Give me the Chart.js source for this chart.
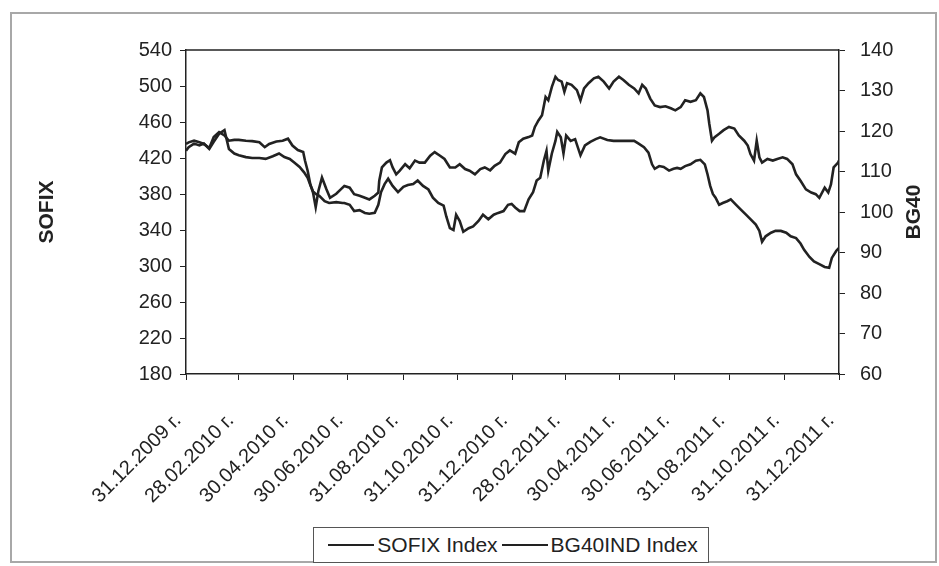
<!DOCTYPE html>
<html>
<head>
<meta charset="utf-8">
<title>SOFIX / BG40</title>
<script src="https://cdn.jsdelivr.net/npm/chart.js"></script>
<style>
    html, body { margin: 0; padding: 0; background: #fff; }
    #wrap { position: relative; width: 939px; height: 566px; }
    #frame { position: absolute; left: 10px; top: 12px; width: 927px; height: 551px; border: 2px solid #a8a8a8; box-sizing: border-box; pointer-events: none; }
    #legend { position: absolute; left: 313px; top: 527px; width: 396px; height: 36px; border: 1.5px solid #555; background: #fff; box-sizing: border-box;
              display: flex; align-items: center; justify-content: center; font-family: "Liberation Sans", Arial, sans-serif; font-size: 21px; color: #222; }
    #legend .sample { display: inline-block; width: 46px; border-top: 2px solid #222; margin: 0 3px 0 4px; }
</style>
</head>
<body>
<div id="wrap">
    <canvas id="myChart" width="939" height="566"></canvas>
    <div id="frame"></div>
    <div id="legend"></div>
</div>
<script>
// x values are days after 31.12.2009
const tickDays = [0, 59, 120, 181, 243, 304, 365, 424, 485, 546, 608, 669, 730];
const tickLabels = ['31.12.2009 г.', '28.02.2010 г.', '30.04.2010 г.', '30.06.2010 г.', '31.08.2010 г.', '31.10.2010 г.',
    '31.12.2010 г.', '28.02.2011 г.', '30.04.2011 г.', '30.06.2011 г.', '31.08.2011 г.', '31.10.2011 г.', '31.12.2011 г.'];

const leftTitle = 'SOFIX';
const rightTitle = 'BG40';
const seriesNames = ['SOFIX Index', 'BG40IND Index'];

const sofixDays = [
    0, 3, 9, 15, 20, 26, 31, 37, 43, 48, 54, 59, 67, 74, 82, 89, 97, 104, 110, 116,
    121, 127, 132, 136, 139, 142, 145, 149, 155, 160, 168, 175, 177, 183, 188, 194, 200, 205, 211, 215,
    218, 222, 226, 231, 237, 243, 248, 254, 259, 265, 271, 276, 282, 288, 291, 295, 299, 302, 306, 310,
    316, 321, 327, 332, 338, 344, 349, 355, 360, 364, 368, 373, 378, 383, 388, 392, 396, 400, 403, 405,
    409, 413, 415, 419, 422, 425, 430, 435, 441, 446, 452, 458, 463, 471, 478, 486, 493, 501, 506, 512,
    517, 521, 524, 529, 534, 540, 545, 549, 553, 558, 564, 570, 575, 580, 583, 586, 589, 592, 596, 600,
    605, 609, 615, 620, 626, 631, 637, 641, 644, 648, 654, 659, 665, 671, 676, 682, 687, 691, 697, 702,
    708, 714, 719, 722, 727, 730
];
const sofixValues = [
    428, 432, 436, 434, 436, 430, 438, 447, 451, 430, 425, 423, 421, 420, 420, 419, 422, 425, 421, 419,
    415, 410, 404, 398, 390, 383, 380, 378, 372, 370, 371, 370, 370, 368, 361, 362, 359, 358, 359, 368,
    382, 391, 397, 389, 382, 388, 390, 391, 395, 389, 385, 376, 370, 367, 355, 342, 340, 357, 350, 338,
    342, 344, 350, 357, 352, 357, 359, 361, 368, 369, 365, 361, 361, 374, 382, 395, 398, 417, 428, 406,
    425, 439, 449, 443, 425, 445, 439, 441, 423, 434, 438, 441, 443, 440, 439, 439, 439, 439, 436, 432,
    426, 413, 408, 411, 410, 406, 408, 409, 408, 411, 413, 417, 418, 413, 402, 389, 380, 376, 368, 370,
    372, 374, 368, 363, 357, 352, 346, 339, 327, 333, 337, 339, 339, 337, 333, 331, 325, 318, 310, 305,
    302, 299, 298, 309, 317, 320
];

const bg40Days = [
    0, 3, 9, 15, 20, 26, 31, 37, 43, 48, 54, 59, 67, 74, 82, 88, 93, 101, 108, 114,
    119, 125, 131, 133, 136, 139, 142, 145, 148, 152, 157, 161, 168, 173, 177, 183, 188, 194, 200, 205,
    211, 215, 216, 219, 224, 228, 231, 235, 239, 245, 250, 256, 261, 267, 273, 278, 284, 289, 295, 301,
    306, 312, 317, 323, 329, 334, 340, 345, 351, 357, 362, 368, 372, 377, 383, 387, 390, 394, 398, 402,
    405, 409, 413, 416, 420, 423, 426, 431, 437, 441, 445, 450, 456, 461, 467, 473, 478, 484, 489, 495,
    501, 506, 510, 514, 519, 524, 530, 536, 542, 547, 553, 558, 564, 570, 575, 579, 583, 585, 588, 591,
    596, 601, 607, 613, 618, 624, 628, 631, 635, 638, 641, 644, 650, 656, 661, 667, 672, 678, 682, 687,
    693, 699, 704, 708, 714, 718, 721, 724, 729, 730
];
const bg40Values = [
    116.8, 117.2, 117.6, 117.2, 116.8, 115.8, 118.5, 119.7, 118.9, 117.6, 117.8, 117.8, 117.6, 117.5, 117.2, 116.0, 116.8, 117.4, 117.6, 118.1,
    116.4, 115.3, 114.8, 112.7, 110.2, 106.8, 104.8, 101.2, 105.2, 108.5, 105.6, 103.5, 104.5, 105.6, 106.4, 106.0, 104.4, 104.0, 103.5, 103.1,
    104.0, 104.8, 107.7, 111.0, 112.2, 112.8, 111.0, 109.3, 110.2, 111.8, 110.8, 112.7, 112.2, 112.2, 113.9, 114.8, 113.9, 113.1, 111.0, 111.0,
    111.8, 110.6, 110.2, 109.3, 110.6, 111.0, 110.3, 111.4, 112.2, 114.3, 115.2, 114.4, 117.2, 118.1, 118.5, 118.9, 121.0, 122.6, 123.9, 128.4,
    127.6, 130.9, 133.4, 132.6, 132.2, 129.7, 131.8, 131.4, 130.1, 127.6, 130.5, 131.8, 133.0, 133.4, 132.2, 130.5, 132.2, 133.4, 132.6, 131.4,
    130.5, 129.3, 131.4, 130.5, 128.0, 126.3, 125.9, 126.1, 125.6, 125.1, 125.9, 127.6, 127.2, 127.6, 129.3, 128.4, 125.1, 121.8, 117.6, 118.5,
    119.3, 120.2, 121.0, 120.6, 118.9, 117.6, 116.4, 114.3, 112.7, 117.6, 113.5, 112.2, 113.1, 112.7, 113.1, 113.5, 113.1, 111.8, 109.3, 107.7,
    105.6, 104.8, 104.4, 103.5, 106.0, 104.8, 106.8, 111.0, 112.2, 112.7
];

const FONT = '"Liberation Sans", Arial, sans-serif';
const INK = '#222';

const plotFrame = {
    id: 'plotFrame',
    afterDraw(chart) {
        const { ctx, chartArea: a } = chart;
        ctx.save();
        ctx.strokeStyle = INK;
        ctx.lineWidth = 1.5;
        ctx.beginPath();
        ctx.moveTo(a.left, a.top);
        ctx.lineTo(a.right, a.top);
        ctx.stroke();
        // right axis title reads bottom to top, like the left one
        ctx.translate(914, (a.top + a.bottom) / 2);
        ctx.rotate(-Math.PI / 2);
        ctx.font = 'bold 21px ' + FONT;
        ctx.fillStyle = INK;
        ctx.textAlign = 'center';
        ctx.textBaseline = 'middle';
        ctx.fillText(rightTitle, 0, 0);
        ctx.restore();
    }
};

const ctx = document.getElementById('myChart').getContext('2d');
const chart = new Chart(ctx, {
    type: 'line',
    data: {
        datasets: [
            {
                label: seriesNames[0],
                data: sofixDays.map((d, i) => ({ x: d, y: sofixValues[i] })),
                yAxisID: 'y',
                borderColor: INK,
                borderWidth: 2.6,
                pointRadius: 0,
                tension: 0,
                fill: false
            },
            {
                label: seriesNames[1],
                data: bg40Days.map((d, i) => ({ x: d, y: bg40Values[i] })),
                yAxisID: 'y1',
                borderColor: INK,
                borderWidth: 2.6,
                pointRadius: 0,
                tension: 0,
                fill: false
            }
        ]
    },
    options: {
        responsive: false,
        animation: false,
        layout: { padding: { top: 50, left: 0, right: 0, bottom: 0 } },
        plugins: {
            legend: { display: false },
            tooltip: { enabled: false }
        },
        scales: {
            x: {
                type: 'linear',
                min: 0,
                max: 730,
                afterBuildTicks: scale => { scale.ticks = tickDays.map(v => ({ value: v })); },
                afterFit: scale => { scale.height = 192; },
                ticks: {
                    autoSkip: false,
                    minRotation: 45,
                    maxRotation: 45,
                    padding: 29,
                    labelOffset: -8,
                    color: INK,
                    font: { family: FONT, size: 20 },
                    callback: (value, index) => tickLabels[index]
                },
                grid: { drawOnChartArea: false, tickLength: 6, color: INK },
                border: { color: INK, width: 1.5 }
            },
            y: {
                position: 'left',
                min: 180,
                max: 540,
                afterFit: scale => { scale.width = 186; },
                ticks: { stepSize: 40, padding: 8, color: INK, font: { family: FONT, size: 20 } },
                grid: { drawOnChartArea: false, tickLength: 6, color: INK },
                border: { color: INK, width: 1.5 },
                title: {
                    display: true,
                    text: leftTitle,
                    color: INK,
                    font: { family: FONT, size: 21, weight: 'bold' },
                    padding: { top: 35, bottom: 0 }
                }
            },
            y1: {
                position: 'right',
                min: 60,
                max: 140,
                afterFit: scale => { scale.width = 100; },
                ticks: { stepSize: 10, padding: 15, color: INK, font: { family: FONT, size: 20 } },
                grid: { drawOnChartArea: false, tickLength: 6, color: INK },
                border: { color: INK, width: 1.5 }
            }
        }
    },
    plugins: [plotFrame]
});

// legend box under the plot
const legendBox = document.getElementById('legend');
chart.data.datasets.forEach(ds => {
    const sample = document.createElement('span');
    sample.className = 'sample';
    sample.style.borderTopColor = ds.borderColor;
    const text = document.createElement('span');
    text.textContent = ds.label;
    legendBox.appendChild(sample);
    legendBox.appendChild(text);
});
</script>
</body>
</html>
